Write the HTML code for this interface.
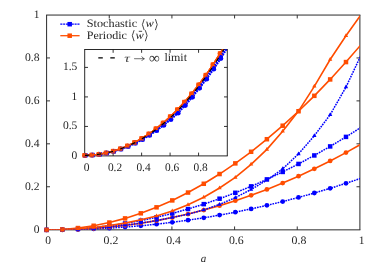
<!DOCTYPE html>
<html><head><meta charset="utf-8"><title>plot</title><style>html,body{margin:0;padding:0;background:#fff}body{width:382px;height:268px;overflow:hidden;font-family:"Liberation Serif",serif}</style></head><body>
<svg width="382" height="268" viewBox="0 0 382 268" style="display:block">
<rect width="382" height="268" fill="#fff"/>
<defs><filter id="tf" x="0" y="0" width="382" height="268" filterUnits="userSpaceOnUse"><feGaussianBlur stdDeviation="0.25"/></filter><clipPath id="cm"><rect x="46.6" y="15.05" width="313.29999999999995" height="214.79999999999998"/></clipPath>
<clipPath id="ci"><rect x="81.7" y="49.5" width="145.60000000000002" height="109.4"/></clipPath></defs>
<path d="M109.26 229.85 v-3.4 M109.26 15.05 v3.4 M46.6 186.76 h3.4 M359.9 186.76 h-3.4 M171.92 229.85 v-3.4 M171.92 15.05 v3.4 M46.6 143.82 h3.4 M359.9 143.82 h-3.4 M234.58 229.85 v-3.4 M234.58 15.05 v3.4 M46.6 100.88 h3.4 M359.9 100.88 h-3.4 M297.24 229.85 v-3.4 M297.24 15.05 v3.4 M46.6 57.94 h3.4 M359.9 57.94 h-3.4" fill="none" stroke="#111" stroke-width="0.85"/>
<path d="M46.6 15.05 V229.85 M46.1 229.85 H360.4 M359.9 229.85 V15.05 M360.4 15.05 H46.1" fill="none" stroke="#2a2a2a" stroke-width="1"/>
<polyline clip-path="url(#cm)" points="46.60,229.90 62.28,229.80 77.97,229.49 93.66,228.93 109.37,228.13 125.08,227.08 140.81,225.76 156.54,224.18 172.28,222.33 188.03,220.20 203.78,217.80 219.55,215.12 235.33,212.15 251.11,208.90 266.90,205.37 282.70,201.54 298.51,197.43 314.33,193.02 330.16,188.32 345.99,183.32 361.84,178.02" fill="none" stroke="#0000ff" stroke-width="1.5" stroke-dasharray="1.7 0.95"/>
<circle cx="46.60" cy="229.90" r="2.40" fill="#0000ff"/>
<circle cx="62.28" cy="229.80" r="2.40" fill="#0000ff"/>
<circle cx="77.97" cy="229.49" r="2.40" fill="#0000ff"/>
<circle cx="93.66" cy="228.93" r="2.40" fill="#0000ff"/>
<circle cx="109.37" cy="228.13" r="2.40" fill="#0000ff"/>
<circle cx="125.08" cy="227.08" r="2.40" fill="#0000ff"/>
<circle cx="140.81" cy="225.76" r="2.40" fill="#0000ff"/>
<circle cx="156.54" cy="224.18" r="2.40" fill="#0000ff"/>
<circle cx="172.28" cy="222.33" r="2.40" fill="#0000ff"/>
<circle cx="188.03" cy="220.20" r="2.40" fill="#0000ff"/>
<circle cx="203.78" cy="217.80" r="2.40" fill="#0000ff"/>
<circle cx="219.55" cy="215.12" r="2.40" fill="#0000ff"/>
<circle cx="235.33" cy="212.15" r="2.40" fill="#0000ff"/>
<circle cx="251.11" cy="208.90" r="2.40" fill="#0000ff"/>
<circle cx="266.90" cy="205.37" r="2.40" fill="#0000ff"/>
<circle cx="282.70" cy="201.54" r="2.40" fill="#0000ff"/>
<circle cx="298.51" cy="197.43" r="2.40" fill="#0000ff"/>
<circle cx="314.33" cy="193.02" r="2.40" fill="#0000ff"/>
<circle cx="330.16" cy="188.32" r="2.40" fill="#0000ff"/>
<circle cx="345.99" cy="183.32" r="2.40" fill="#0000ff"/>
<polyline clip-path="url(#cm)" points="46.60,229.90 62.28,229.75 77.97,229.25 93.66,228.36 109.37,227.06 125.08,225.34 140.81,223.19 156.54,220.59 172.28,217.55 188.03,214.04 203.78,210.07 219.55,205.63 235.33,200.72 251.11,195.32 266.90,189.44 282.70,183.07 298.51,176.20 314.33,168.83 330.16,160.97 345.99,152.59 361.84,143.71" fill="none" stroke="#ff4d00" stroke-width="1.6"/>
<circle cx="46.60" cy="229.90" r="2.40" fill="#ff4d00"/>
<circle cx="62.28" cy="229.75" r="2.40" fill="#ff4d00"/>
<circle cx="77.97" cy="229.25" r="2.40" fill="#ff4d00"/>
<circle cx="93.66" cy="228.36" r="2.40" fill="#ff4d00"/>
<circle cx="109.37" cy="227.06" r="2.40" fill="#ff4d00"/>
<circle cx="125.08" cy="225.34" r="2.40" fill="#ff4d00"/>
<circle cx="140.81" cy="223.19" r="2.40" fill="#ff4d00"/>
<circle cx="156.54" cy="220.59" r="2.40" fill="#ff4d00"/>
<circle cx="172.28" cy="217.55" r="2.40" fill="#ff4d00"/>
<circle cx="188.03" cy="214.04" r="2.40" fill="#ff4d00"/>
<circle cx="203.78" cy="210.07" r="2.40" fill="#ff4d00"/>
<circle cx="219.55" cy="205.63" r="2.40" fill="#ff4d00"/>
<circle cx="235.33" cy="200.72" r="2.40" fill="#ff4d00"/>
<circle cx="251.11" cy="195.32" r="2.40" fill="#ff4d00"/>
<circle cx="266.90" cy="189.44" r="2.40" fill="#ff4d00"/>
<circle cx="282.70" cy="183.07" r="2.40" fill="#ff4d00"/>
<circle cx="298.51" cy="176.20" r="2.40" fill="#ff4d00"/>
<circle cx="314.33" cy="168.83" r="2.40" fill="#ff4d00"/>
<circle cx="330.16" cy="160.97" r="2.40" fill="#ff4d00"/>
<circle cx="345.99" cy="152.59" r="2.40" fill="#ff4d00"/>
<polyline clip-path="url(#cm)" points="46.60,229.90 62.28,229.64 77.97,228.87 93.66,227.58 109.37,225.78 125.08,223.46 140.81,220.62 156.54,217.28 172.28,213.41 188.03,209.03 203.78,204.14 219.55,198.72 235.33,192.80 251.11,186.36 266.90,179.40 282.70,171.93 298.51,163.94 314.33,155.44 330.16,146.42 345.99,136.89 361.84,126.84" fill="none" stroke="#0000ff" stroke-width="1.5" stroke-dasharray="1.7 0.95"/>
<rect x="44.35" y="227.65" width="4.50" height="4.50" fill="#0000ff"/>
<rect x="60.03" y="227.39" width="4.50" height="4.50" fill="#0000ff"/>
<rect x="75.72" y="226.62" width="4.50" height="4.50" fill="#0000ff"/>
<rect x="91.41" y="225.33" width="4.50" height="4.50" fill="#0000ff"/>
<rect x="107.12" y="223.53" width="4.50" height="4.50" fill="#0000ff"/>
<rect x="122.83" y="221.21" width="4.50" height="4.50" fill="#0000ff"/>
<rect x="138.56" y="218.37" width="4.50" height="4.50" fill="#0000ff"/>
<rect x="154.29" y="215.03" width="4.50" height="4.50" fill="#0000ff"/>
<rect x="170.03" y="211.16" width="4.50" height="4.50" fill="#0000ff"/>
<rect x="185.78" y="206.78" width="4.50" height="4.50" fill="#0000ff"/>
<rect x="201.53" y="201.89" width="4.50" height="4.50" fill="#0000ff"/>
<rect x="217.30" y="196.47" width="4.50" height="4.50" fill="#0000ff"/>
<rect x="233.08" y="190.55" width="4.50" height="4.50" fill="#0000ff"/>
<rect x="248.86" y="184.11" width="4.50" height="4.50" fill="#0000ff"/>
<rect x="264.65" y="177.15" width="4.50" height="4.50" fill="#0000ff"/>
<rect x="280.45" y="169.68" width="4.50" height="4.50" fill="#0000ff"/>
<rect x="296.26" y="161.69" width="4.50" height="4.50" fill="#0000ff"/>
<rect x="312.08" y="153.19" width="4.50" height="4.50" fill="#0000ff"/>
<rect x="327.91" y="144.17" width="4.50" height="4.50" fill="#0000ff"/>
<rect x="343.74" y="134.64" width="4.50" height="4.50" fill="#0000ff"/>
<polyline clip-path="url(#cm)" points="46.60,229.90 62.28,229.44 77.97,228.06 93.66,225.76 109.37,222.54 125.08,218.39 140.81,213.32 156.54,207.33 172.28,200.41 188.03,192.55 203.78,183.77 219.55,174.04 235.33,163.38 251.11,151.77 266.90,139.22 282.70,125.71 298.51,111.25 314.33,95.82 330.16,79.43 345.99,62.07 361.84,43.72" fill="none" stroke="#ff4d00" stroke-width="1.6"/>
<rect x="44.35" y="227.65" width="4.50" height="4.50" fill="#ff4d00"/>
<rect x="60.03" y="227.19" width="4.50" height="4.50" fill="#ff4d00"/>
<rect x="75.72" y="225.81" width="4.50" height="4.50" fill="#ff4d00"/>
<rect x="91.41" y="223.51" width="4.50" height="4.50" fill="#ff4d00"/>
<rect x="107.12" y="220.29" width="4.50" height="4.50" fill="#ff4d00"/>
<rect x="122.83" y="216.14" width="4.50" height="4.50" fill="#ff4d00"/>
<rect x="138.56" y="211.07" width="4.50" height="4.50" fill="#ff4d00"/>
<rect x="154.29" y="205.08" width="4.50" height="4.50" fill="#ff4d00"/>
<rect x="170.03" y="198.16" width="4.50" height="4.50" fill="#ff4d00"/>
<rect x="185.78" y="190.30" width="4.50" height="4.50" fill="#ff4d00"/>
<rect x="201.53" y="181.52" width="4.50" height="4.50" fill="#ff4d00"/>
<rect x="217.30" y="171.79" width="4.50" height="4.50" fill="#ff4d00"/>
<rect x="233.08" y="161.13" width="4.50" height="4.50" fill="#ff4d00"/>
<rect x="248.86" y="149.52" width="4.50" height="4.50" fill="#ff4d00"/>
<rect x="264.65" y="136.97" width="4.50" height="4.50" fill="#ff4d00"/>
<rect x="280.45" y="123.46" width="4.50" height="4.50" fill="#ff4d00"/>
<rect x="296.26" y="109.00" width="4.50" height="4.50" fill="#ff4d00"/>
<rect x="312.08" y="93.57" width="4.50" height="4.50" fill="#ff4d00"/>
<rect x="327.91" y="77.18" width="4.50" height="4.50" fill="#ff4d00"/>
<rect x="343.74" y="59.82" width="4.50" height="4.50" fill="#ff4d00"/>
<polyline clip-path="url(#cm)" points="46.60,229.90 62.28,229.71 77.97,229.15 93.66,228.22 109.37,226.91 125.08,225.22 140.81,223.11 156.54,220.59 172.28,217.50 188.03,214.21 203.78,209.91 219.55,204.39 235.33,197.67 251.11,189.50 266.90,180.11 282.70,168.87 298.51,153.89 314.33,135.77 330.16,114.71 345.99,87.10 361.84,53.47" fill="none" stroke="#0000ff" stroke-width="1.5" stroke-dasharray="1.7 0.95"/>
<path d="M46.60 227.40 L48.77 231.15 L44.44 231.15Z" fill="#0000ff"/>
<path d="M62.28 227.21 L64.44 230.96 L60.11 230.96Z" fill="#0000ff"/>
<path d="M77.97 226.65 L80.13 230.40 L75.80 230.40Z" fill="#0000ff"/>
<path d="M93.66 225.72 L95.83 229.47 L91.50 229.47Z" fill="#0000ff"/>
<path d="M109.37 224.41 L111.53 228.16 L107.20 228.16Z" fill="#0000ff"/>
<path d="M125.08 222.72 L127.25 226.47 L122.92 226.47Z" fill="#0000ff"/>
<path d="M140.81 220.61 L142.97 224.36 L138.64 224.36Z" fill="#0000ff"/>
<path d="M156.54 218.09 L158.70 221.84 L154.37 221.84Z" fill="#0000ff"/>
<path d="M172.28 215.00 L174.44 218.75 L170.11 218.75Z" fill="#0000ff"/>
<path d="M188.03 211.71 L190.19 215.46 L185.86 215.46Z" fill="#0000ff"/>
<path d="M203.78 207.41 L205.95 211.16 L201.62 211.16Z" fill="#0000ff"/>
<path d="M219.55 201.89 L221.72 205.64 L217.39 205.64Z" fill="#0000ff"/>
<path d="M235.33 195.17 L237.49 198.92 L233.16 198.92Z" fill="#0000ff"/>
<path d="M251.11 187.00 L253.27 190.75 L248.94 190.75Z" fill="#0000ff"/>
<path d="M266.90 177.61 L269.07 181.36 L264.74 181.36Z" fill="#0000ff"/>
<path d="M282.70 166.37 L284.87 170.12 L280.54 170.12Z" fill="#0000ff"/>
<path d="M298.51 151.39 L300.68 155.14 L296.35 155.14Z" fill="#0000ff"/>
<path d="M314.33 133.27 L316.49 137.02 L312.16 137.02Z" fill="#0000ff"/>
<path d="M330.16 112.21 L332.32 115.96 L327.99 115.96Z" fill="#0000ff"/>
<path d="M345.99 84.60 L348.16 88.35 L343.83 88.35Z" fill="#0000ff"/>
<polyline clip-path="url(#cm)" points="46.60,229.90 62.28,229.63 77.97,228.82 93.66,227.46 109.37,225.56 125.08,223.12 140.81,219.80 156.54,215.93 172.28,210.99 188.03,204.76 203.78,197.24 219.55,187.99 235.33,177.46 251.11,164.36 266.90,149.40 282.70,131.26 298.51,111.06 314.33,86.35 330.16,59.48 345.99,35.69 361.84,13.50" fill="none" stroke="#ff4d00" stroke-width="1.6"/>
<path d="M46.60 227.40 L48.77 231.15 L44.44 231.15Z" fill="#ff4d00"/>
<path d="M62.28 227.13 L64.44 230.88 L60.11 230.88Z" fill="#ff4d00"/>
<path d="M77.97 226.32 L80.13 230.07 L75.80 230.07Z" fill="#ff4d00"/>
<path d="M93.66 224.96 L95.83 228.71 L91.50 228.71Z" fill="#ff4d00"/>
<path d="M109.37 223.06 L111.53 226.81 L107.20 226.81Z" fill="#ff4d00"/>
<path d="M125.08 220.62 L127.25 224.37 L122.92 224.37Z" fill="#ff4d00"/>
<path d="M140.81 217.30 L142.97 221.05 L138.64 221.05Z" fill="#ff4d00"/>
<path d="M156.54 213.43 L158.70 217.18 L154.37 217.18Z" fill="#ff4d00"/>
<path d="M172.28 208.49 L174.44 212.24 L170.11 212.24Z" fill="#ff4d00"/>
<path d="M188.03 202.26 L190.19 206.01 L185.86 206.01Z" fill="#ff4d00"/>
<path d="M203.78 194.74 L205.95 198.49 L201.62 198.49Z" fill="#ff4d00"/>
<path d="M219.55 185.49 L221.72 189.24 L217.39 189.24Z" fill="#ff4d00"/>
<path d="M235.33 174.96 L237.49 178.71 L233.16 178.71Z" fill="#ff4d00"/>
<path d="M251.11 161.86 L253.27 165.61 L248.94 165.61Z" fill="#ff4d00"/>
<path d="M266.90 146.90 L269.07 150.65 L264.74 150.65Z" fill="#ff4d00"/>
<path d="M282.70 128.76 L284.87 132.51 L280.54 132.51Z" fill="#ff4d00"/>
<path d="M298.51 108.56 L300.68 112.31 L296.35 112.31Z" fill="#ff4d00"/>
<path d="M314.33 83.85 L316.49 87.60 L312.16 87.60Z" fill="#ff4d00"/>
<path d="M330.16 56.98 L332.32 60.73 L327.99 60.73Z" fill="#ff4d00"/>
<path d="M345.99 33.19 L348.16 36.94 L343.83 36.94Z" fill="#ff4d00"/>
<rect x="84.7" y="49.5" width="142.60000000000002" height="106.4" fill="#fff"/>
<path d="M113.13 155.9 v-3.3 M113.13 49.5 v3.3 M141.61 155.9 v-3.3 M141.61 49.5 v3.3 M170.09 155.9 v-3.3 M170.09 49.5 v3.3 M198.57 155.9 v-3.3 M198.57 49.5 v3.3 M84.7 126.43 h3.3 M227.3 126.43 h-3.3 M84.7 96.92 h3.3 M227.3 96.92 h-3.3 M84.7 67.40 h3.3 M227.3 67.40 h-3.3" fill="none" stroke="#111" stroke-width="0.85"/>
<path d="M84.7 49.5 V155.9 M84.25 155.9 H227.75 M227.3 155.9 V49.5 M227.75 49.5 H84.25" fill="none" stroke="#111" stroke-width="0.9"/>
<polyline clip-path="url(#ci)" points="85.40,155.30 87.24,155.28 89.07,155.23 90.91,155.15 92.74,155.03 94.58,154.88 96.42,154.70 98.25,154.48 100.09,154.23 101.92,153.95 103.76,153.64 105.60,153.29 107.43,152.91 109.27,152.50 111.10,152.06 112.94,151.59 114.78,151.08 116.61,150.54 118.45,149.97 120.28,149.36 122.12,148.72 123.96,148.06 125.79,147.35 127.63,146.62 129.46,145.85 131.30,145.05 133.14,144.22 134.97,143.35 136.81,142.45 138.64,141.52 140.48,140.56 142.32,139.56 144.15,138.53 145.99,137.46 147.82,136.36 149.66,135.23 151.50,134.06 153.33,132.86 155.17,131.62 157.00,130.35 158.84,129.04 160.67,127.70 162.51,126.32 164.35,124.91 166.18,123.47 168.02,121.98 169.85,120.46 171.69,118.90 173.53,117.31 175.36,115.68 177.20,114.01 179.03,112.22 180.87,110.30 182.71,108.33 184.54,106.33 186.38,104.27 188.21,102.18 190.05,100.04 191.89,97.85 193.72,95.62 195.56,93.34 197.39,91.01 199.23,88.64 201.07,86.34 202.90,84.00 204.74,81.62 206.57,79.18 208.41,76.70 210.25,74.17 212.08,71.59 213.92,68.96 215.75,66.28 217.59,63.55 219.43,60.76 221.26,57.93 223.10,55.04 224.93,52.10 226.77,49.10 228.61,46.05 230.44,42.95 232.28,39.79" fill="none" stroke="#0000ff" stroke-width="1.6" stroke-dasharray="1.7 0.95"/>
<circle cx="85.40" cy="155.30" r="2.40" fill="#0000ff"/>
<circle cx="92.53" cy="155.05" r="2.40" fill="#0000ff"/>
<circle cx="99.66" cy="154.29" r="2.40" fill="#0000ff"/>
<circle cx="106.79" cy="153.05" r="2.40" fill="#0000ff"/>
<circle cx="113.92" cy="151.32" r="2.40" fill="#0000ff"/>
<circle cx="121.05" cy="149.10" r="2.40" fill="#0000ff"/>
<circle cx="128.18" cy="146.39" r="2.40" fill="#0000ff"/>
<circle cx="135.31" cy="143.19" r="2.40" fill="#0000ff"/>
<circle cx="142.44" cy="139.49" r="2.40" fill="#0000ff"/>
<circle cx="149.57" cy="135.28" r="2.40" fill="#0000ff"/>
<circle cx="156.70" cy="130.56" r="2.40" fill="#0000ff"/>
<circle cx="163.83" cy="125.31" r="2.40" fill="#0000ff"/>
<circle cx="170.96" cy="119.53" r="2.40" fill="#0000ff"/>
<circle cx="178.09" cy="113.19" r="2.40" fill="#0000ff"/>
<circle cx="185.22" cy="105.57" r="2.40" fill="#0000ff"/>
<circle cx="192.35" cy="97.29" r="2.40" fill="#0000ff"/>
<circle cx="199.48" cy="88.32" r="2.40" fill="#0000ff"/>
<circle cx="206.61" cy="79.14" r="2.40" fill="#0000ff"/>
<circle cx="213.74" cy="69.22" r="2.40" fill="#0000ff"/>
<circle cx="220.87" cy="58.54" r="2.40" fill="#0000ff"/>
<polyline clip-path="url(#ci)" points="84.60,155.30 86.44,155.28 88.27,155.23 90.11,155.15 91.94,155.02 93.78,154.87 95.62,154.68 97.45,154.46 99.29,154.20 101.12,153.91 102.96,153.58 104.80,153.22 106.63,152.82 108.47,152.39 110.30,151.92 112.14,151.42 113.98,150.88 115.81,150.31 117.65,149.70 119.48,149.06 121.32,148.38 123.16,147.66 124.99,146.91 126.83,146.13 128.66,145.31 130.50,144.45 132.34,143.55 134.17,142.62 136.01,141.65 137.84,140.65 139.68,139.60 141.52,138.52 143.35,137.41 145.19,136.25 147.02,135.06 148.86,133.83 150.70,132.56 152.53,131.25 154.37,129.90 156.20,128.51 158.04,127.09 159.87,125.62 161.71,124.12 163.55,122.57 165.38,120.98 167.22,119.36 169.05,117.69 170.89,115.98 172.73,114.23 174.56,112.43 176.40,110.60 178.23,108.72 180.07,106.80 181.91,104.83 183.74,102.83 185.58,100.77 187.41,98.68 189.25,96.54 191.09,94.35 192.92,92.12 194.76,89.84 196.59,87.51 198.43,85.14 200.27,82.73 202.10,80.26 203.94,77.75 205.77,75.19 207.61,72.57 209.45,69.92 211.28,67.21 213.12,64.45 214.95,61.64 216.79,58.78 218.63,55.86 220.46,52.90 222.30,49.88 224.13,46.81 225.97,43.69 227.81,40.51 229.64,37.28 231.48,33.99" fill="none" stroke="#ff4d00" stroke-width="1.5"/>
<circle cx="84.60" cy="155.30" r="2.40" fill="#ff4d00"/>
<circle cx="91.73" cy="155.04" r="2.40" fill="#ff4d00"/>
<circle cx="98.86" cy="154.26" r="2.40" fill="#ff4d00"/>
<circle cx="105.99" cy="152.96" r="2.40" fill="#ff4d00"/>
<circle cx="113.12" cy="151.14" r="2.40" fill="#ff4d00"/>
<circle cx="120.25" cy="148.78" r="2.40" fill="#ff4d00"/>
<circle cx="127.38" cy="145.88" r="2.40" fill="#ff4d00"/>
<circle cx="134.51" cy="142.44" r="2.40" fill="#ff4d00"/>
<circle cx="141.64" cy="138.45" r="2.40" fill="#ff4d00"/>
<circle cx="148.77" cy="133.89" r="2.40" fill="#ff4d00"/>
<circle cx="155.90" cy="128.74" r="2.40" fill="#ff4d00"/>
<circle cx="163.03" cy="123.01" r="2.40" fill="#ff4d00"/>
<circle cx="170.16" cy="116.66" r="2.40" fill="#ff4d00"/>
<circle cx="177.29" cy="109.69" r="2.40" fill="#ff4d00"/>
<circle cx="184.42" cy="102.07" r="2.40" fill="#ff4d00"/>
<circle cx="191.55" cy="93.79" r="2.40" fill="#ff4d00"/>
<circle cx="198.68" cy="84.82" r="2.40" fill="#ff4d00"/>
<circle cx="205.81" cy="75.14" r="2.40" fill="#ff4d00"/>
<circle cx="212.94" cy="64.72" r="2.40" fill="#ff4d00"/>
<circle cx="220.07" cy="53.54" r="2.40" fill="#ff4d00"/>
<polyline clip-path="url(#ci)" points="85.24,155.30 87.08,155.28 88.91,155.23 90.75,155.15 92.58,155.03 94.42,154.88 96.26,154.69 98.09,154.48 99.93,154.23 101.76,153.94 103.60,153.63 105.44,153.28 107.27,152.90 109.11,152.48 110.94,152.03 112.78,151.55 114.62,151.04 116.45,150.49 118.29,149.91 120.12,149.30 121.96,148.66 123.80,147.98 125.63,147.27 127.47,146.52 129.30,145.74 131.14,144.93 132.98,144.08 134.81,143.21 136.65,142.29 138.48,141.35 140.32,140.37 142.16,139.35 143.99,138.30 145.83,137.22 147.66,136.10 149.50,134.95 151.34,133.76 153.17,132.53 155.01,131.28 156.84,129.98 158.68,128.65 160.51,127.29 162.35,125.88 164.19,124.44 166.02,122.97 167.86,121.46 169.69,119.91 171.53,118.32 173.37,116.69 175.20,115.03 177.04,113.33 178.87,111.52 180.71,109.60 182.55,107.63 184.38,105.63 186.22,103.57 188.05,101.48 189.89,99.34 191.73,97.15 193.56,94.92 195.40,92.64 197.23,90.31 199.07,87.94 200.91,85.61 202.74,83.25 204.58,80.84 206.41,78.38 208.25,75.88 210.09,73.32 211.92,70.71 213.76,68.06 215.59,65.35 217.43,62.59 219.27,59.78 221.10,56.92 222.94,54.01 224.77,51.04 226.61,48.02 228.45,44.94 230.28,41.82 232.12,38.63" fill="none" stroke="#0000ff" stroke-width="1.6" stroke-dasharray="1.7 0.95"/>
<rect x="82.99" y="153.05" width="4.50" height="4.50" fill="#0000ff"/>
<rect x="90.12" y="152.80" width="4.50" height="4.50" fill="#0000ff"/>
<rect x="97.25" y="152.04" width="4.50" height="4.50" fill="#0000ff"/>
<rect x="104.38" y="150.78" width="4.50" height="4.50" fill="#0000ff"/>
<rect x="111.51" y="149.03" width="4.50" height="4.50" fill="#0000ff"/>
<rect x="118.64" y="146.79" width="4.50" height="4.50" fill="#0000ff"/>
<rect x="125.77" y="144.04" width="4.50" height="4.50" fill="#0000ff"/>
<rect x="132.90" y="140.79" width="4.50" height="4.50" fill="#0000ff"/>
<rect x="140.03" y="137.03" width="4.50" height="4.50" fill="#0000ff"/>
<rect x="147.16" y="132.75" width="4.50" height="4.50" fill="#0000ff"/>
<rect x="154.29" y="127.95" width="4.50" height="4.50" fill="#0000ff"/>
<rect x="161.42" y="122.60" width="4.50" height="4.50" fill="#0000ff"/>
<rect x="168.55" y="116.71" width="4.50" height="4.50" fill="#0000ff"/>
<rect x="175.68" y="110.24" width="4.50" height="4.50" fill="#0000ff"/>
<rect x="182.81" y="102.62" width="4.50" height="4.50" fill="#0000ff"/>
<rect x="189.94" y="94.34" width="4.50" height="4.50" fill="#0000ff"/>
<rect x="197.07" y="85.37" width="4.50" height="4.50" fill="#0000ff"/>
<rect x="204.20" y="76.09" width="4.50" height="4.50" fill="#0000ff"/>
<rect x="211.33" y="66.07" width="4.50" height="4.50" fill="#0000ff"/>
<rect x="218.46" y="55.29" width="4.50" height="4.50" fill="#0000ff"/>
<polyline clip-path="url(#ci)" points="84.60,155.30 86.44,155.28 88.27,155.23 90.11,155.15 91.94,155.02 93.78,154.87 95.62,154.68 97.45,154.46 99.29,154.20 101.12,153.91 102.96,153.58 104.80,153.22 106.63,152.82 108.47,152.39 110.30,151.92 112.14,151.42 113.98,150.88 115.81,150.31 117.65,149.70 119.48,149.06 121.32,148.38 123.16,147.66 124.99,146.91 126.83,146.13 128.66,145.31 130.50,144.45 132.34,143.55 134.17,142.62 136.01,141.65 137.84,140.65 139.68,139.60 141.52,138.52 143.35,137.41 145.19,136.25 147.02,135.06 148.86,133.83 150.70,132.56 152.53,131.25 154.37,129.90 156.20,128.51 158.04,127.09 159.87,125.62 161.71,124.12 163.55,122.57 165.38,120.98 167.22,119.36 169.05,117.69 170.89,115.98 172.73,114.23 174.56,112.43 176.40,110.60 178.23,108.72 180.07,106.80 181.91,104.83 183.74,102.83 185.58,100.77 187.41,98.68 189.25,96.54 191.09,94.35 192.92,92.12 194.76,89.84 196.59,87.51 198.43,85.14 200.27,82.73 202.10,80.26 203.94,77.75 205.77,75.19 207.61,72.57 209.45,69.92 211.28,67.21 213.12,64.45 214.95,61.64 216.79,58.78 218.63,55.86 220.46,52.90 222.30,49.88 224.13,46.81 225.97,43.69 227.81,40.51 229.64,37.28 231.48,33.99" fill="none" stroke="#ff4d00" stroke-width="1.5"/>
<rect x="82.35" y="153.05" width="4.50" height="4.50" fill="#ff4d00"/>
<rect x="89.48" y="152.79" width="4.50" height="4.50" fill="#ff4d00"/>
<rect x="96.61" y="152.01" width="4.50" height="4.50" fill="#ff4d00"/>
<rect x="103.74" y="150.71" width="4.50" height="4.50" fill="#ff4d00"/>
<rect x="110.87" y="148.89" width="4.50" height="4.50" fill="#ff4d00"/>
<rect x="118.00" y="146.53" width="4.50" height="4.50" fill="#ff4d00"/>
<rect x="125.13" y="143.63" width="4.50" height="4.50" fill="#ff4d00"/>
<rect x="132.26" y="140.19" width="4.50" height="4.50" fill="#ff4d00"/>
<rect x="139.39" y="136.20" width="4.50" height="4.50" fill="#ff4d00"/>
<rect x="146.52" y="131.64" width="4.50" height="4.50" fill="#ff4d00"/>
<rect x="153.65" y="126.49" width="4.50" height="4.50" fill="#ff4d00"/>
<rect x="160.78" y="120.76" width="4.50" height="4.50" fill="#ff4d00"/>
<rect x="167.91" y="114.41" width="4.50" height="4.50" fill="#ff4d00"/>
<rect x="175.04" y="107.44" width="4.50" height="4.50" fill="#ff4d00"/>
<rect x="182.17" y="99.82" width="4.50" height="4.50" fill="#ff4d00"/>
<rect x="189.30" y="91.54" width="4.50" height="4.50" fill="#ff4d00"/>
<rect x="196.43" y="82.57" width="4.50" height="4.50" fill="#ff4d00"/>
<rect x="203.56" y="72.89" width="4.50" height="4.50" fill="#ff4d00"/>
<rect x="210.69" y="62.47" width="4.50" height="4.50" fill="#ff4d00"/>
<rect x="217.82" y="51.29" width="4.50" height="4.50" fill="#ff4d00"/>
<polyline clip-path="url(#ci)" points="85.00,155.30 86.84,155.28 88.67,155.23 90.51,155.15 92.34,155.03 94.18,154.88 96.02,154.69 97.85,154.47 99.69,154.22 101.52,153.93 103.36,153.61 105.20,153.25 107.03,152.87 108.87,152.45 110.70,151.99 112.54,151.50 114.38,150.98 116.21,150.42 118.05,149.83 119.88,149.21 121.72,148.55 123.56,147.86 125.39,147.13 127.23,146.37 129.06,145.58 130.90,144.75 132.74,143.89 134.57,142.99 136.41,142.05 138.24,141.08 140.08,140.08 141.92,139.04 143.75,137.97 145.59,136.86 147.42,135.71 149.26,134.53 151.10,133.31 152.93,132.05 154.77,130.76 156.60,129.43 158.44,128.06 160.27,126.66 162.11,125.22 163.95,123.74 165.78,122.22 167.62,120.67 169.45,119.07 171.29,117.44 173.13,115.77 174.96,114.06 176.80,112.31 178.63,110.47 180.47,108.55 182.31,106.58 184.14,104.58 185.98,102.52 187.81,100.43 189.65,98.29 191.49,96.10 193.32,93.87 195.16,91.59 196.99,89.26 198.83,86.89 200.67,84.53 202.50,82.13 204.34,79.68 206.17,77.18 208.01,74.64 209.85,72.04 211.68,69.40 213.52,66.70 215.35,63.96 217.19,61.16 219.03,58.31 220.86,55.41 222.70,52.46 224.53,49.45 226.37,46.39 228.21,43.28 230.04,40.11 231.88,36.89" fill="none" stroke="#0000ff" stroke-width="1.6" stroke-dasharray="1.7 0.95"/>
<path d="M85.00 152.80 L87.17 156.55 L82.83 156.55Z" fill="#0000ff"/>
<path d="M92.13 152.54 L94.30 156.29 L89.96 156.29Z" fill="#0000ff"/>
<path d="M99.26 151.78 L101.43 155.53 L97.09 155.53Z" fill="#0000ff"/>
<path d="M106.39 150.51 L108.56 154.26 L104.22 154.26Z" fill="#0000ff"/>
<path d="M113.52 148.73 L115.69 152.48 L111.35 152.48Z" fill="#0000ff"/>
<path d="M120.65 146.44 L122.82 150.19 L118.48 150.19Z" fill="#0000ff"/>
<path d="M127.78 143.64 L129.94 147.39 L125.61 147.39Z" fill="#0000ff"/>
<path d="M134.91 140.32 L137.07 144.07 L132.75 144.07Z" fill="#0000ff"/>
<path d="M142.04 136.47 L144.20 140.22 L139.88 140.22Z" fill="#0000ff"/>
<path d="M149.17 132.08 L151.33 135.83 L147.00 135.83Z" fill="#0000ff"/>
<path d="M156.30 127.15 L158.46 130.90 L154.13 130.90Z" fill="#0000ff"/>
<path d="M163.43 121.66 L165.59 125.41 L161.27 125.41Z" fill="#0000ff"/>
<path d="M170.56 115.60 L172.72 119.35 L168.40 119.35Z" fill="#0000ff"/>
<path d="M177.69 108.94 L179.85 112.69 L175.53 112.69Z" fill="#0000ff"/>
<path d="M184.82 101.32 L186.99 105.07 L182.66 105.07Z" fill="#0000ff"/>
<path d="M191.95 93.04 L194.11 96.79 L189.78 96.79Z" fill="#0000ff"/>
<path d="M199.08 84.07 L201.25 87.82 L196.92 87.82Z" fill="#0000ff"/>
<path d="M206.21 74.64 L208.38 78.39 L204.05 78.39Z" fill="#0000ff"/>
<path d="M213.34 64.47 L215.50 68.22 L211.18 68.22Z" fill="#0000ff"/>
<path d="M220.47 53.54 L222.63 57.29 L218.31 57.29Z" fill="#0000ff"/>
<polyline clip-path="url(#ci)" points="84.60,155.30 86.44,155.28 88.27,155.23 90.11,155.15 91.94,155.02 93.78,154.87 95.62,154.68 97.45,154.46 99.29,154.20 101.12,153.91 102.96,153.58 104.80,153.22 106.63,152.82 108.47,152.39 110.30,151.92 112.14,151.42 113.98,150.88 115.81,150.31 117.65,149.70 119.48,149.06 121.32,148.38 123.16,147.66 124.99,146.91 126.83,146.13 128.66,145.31 130.50,144.45 132.34,143.55 134.17,142.62 136.01,141.65 137.84,140.65 139.68,139.60 141.52,138.52 143.35,137.41 145.19,136.25 147.02,135.06 148.86,133.83 150.70,132.56 152.53,131.25 154.37,129.90 156.20,128.51 158.04,127.09 159.87,125.62 161.71,124.12 163.55,122.57 165.38,120.98 167.22,119.36 169.05,117.69 170.89,115.98 172.73,114.23 174.56,112.43 176.40,110.60 178.23,108.72 180.07,106.80 181.91,104.83 183.74,102.83 185.58,100.77 187.41,98.68 189.25,96.54 191.09,94.35 192.92,92.12 194.76,89.84 196.59,87.51 198.43,85.14 200.27,82.73 202.10,80.26 203.94,77.75 205.77,75.19 207.61,72.57 209.45,69.92 211.28,67.21 213.12,64.45 214.95,61.64 216.79,58.78 218.63,55.86 220.46,52.90 222.30,49.88 224.13,46.81 225.97,43.69 227.81,40.51 229.64,37.28 231.48,33.99" fill="none" stroke="#ff4d00" stroke-width="1.5"/>
<path d="M84.60 152.80 L86.77 156.55 L82.43 156.55Z" fill="#ff4d00"/>
<path d="M91.73 152.54 L93.89 156.29 L89.56 156.29Z" fill="#ff4d00"/>
<path d="M98.86 151.76 L101.03 155.51 L96.69 155.51Z" fill="#ff4d00"/>
<path d="M105.99 150.46 L108.16 154.21 L103.82 154.21Z" fill="#ff4d00"/>
<path d="M113.12 148.64 L115.28 152.39 L110.95 152.39Z" fill="#ff4d00"/>
<path d="M120.25 146.28 L122.42 150.03 L118.08 150.03Z" fill="#ff4d00"/>
<path d="M127.38 143.38 L129.54 147.13 L125.21 147.13Z" fill="#ff4d00"/>
<path d="M134.51 139.94 L136.67 143.69 L132.34 143.69Z" fill="#ff4d00"/>
<path d="M141.64 135.95 L143.80 139.70 L139.47 139.70Z" fill="#ff4d00"/>
<path d="M148.77 131.39 L150.93 135.14 L146.60 135.14Z" fill="#ff4d00"/>
<path d="M155.90 126.24 L158.06 129.99 L153.73 129.99Z" fill="#ff4d00"/>
<path d="M163.03 120.51 L165.19 124.26 L160.87 124.26Z" fill="#ff4d00"/>
<path d="M170.16 114.16 L172.32 117.91 L168.00 117.91Z" fill="#ff4d00"/>
<path d="M177.29 107.19 L179.45 110.94 L175.12 110.94Z" fill="#ff4d00"/>
<path d="M184.42 99.57 L186.59 103.32 L182.26 103.32Z" fill="#ff4d00"/>
<path d="M191.55 91.29 L193.71 95.04 L189.38 95.04Z" fill="#ff4d00"/>
<path d="M198.68 82.32 L200.84 86.07 L196.52 86.07Z" fill="#ff4d00"/>
<path d="M205.81 72.64 L207.97 76.39 L203.65 76.39Z" fill="#ff4d00"/>
<path d="M212.94 62.22 L215.10 65.97 L210.78 65.97Z" fill="#ff4d00"/>
<path d="M220.07 51.04 L222.23 54.79 L217.91 54.79Z" fill="#ff4d00"/>
<polyline clip-path="url(#ci)" points="84.90,155.30 86.74,155.28 88.57,155.23 90.41,155.15 92.24,155.03 94.08,154.87 95.92,154.69 97.75,154.46 99.59,154.21 101.42,153.92 103.26,153.60 105.10,153.24 106.93,152.85 108.77,152.42 110.60,151.96 112.44,151.47 114.28,150.94 116.11,150.38 117.95,149.78 119.78,149.15 121.62,148.48 123.46,147.78 125.29,147.05 127.13,146.28 128.96,145.47 130.80,144.63 132.64,143.75 134.47,142.84 136.31,141.89 138.14,140.91 139.98,139.89 141.82,138.83 143.65,137.74 145.49,136.61 147.32,135.45 149.16,134.25 151.00,133.01 152.83,131.73 154.67,130.42 156.50,129.06 158.34,127.67 160.17,126.25 162.01,124.78 163.85,123.27 165.68,121.73 167.52,120.14 169.35,118.52 171.19,116.86 173.03,115.15 174.86,113.41 176.70,111.62 178.53,109.77 180.37,107.85 182.21,105.88 184.04,103.88 185.88,101.82 187.71,99.73 189.55,97.59 191.39,95.40 193.22,93.17 195.06,90.89 196.89,88.56 198.73,86.19 200.57,83.81 202.40,81.38 204.24,78.91 206.07,76.38 207.91,73.81 209.75,71.19 211.58,68.52 213.42,65.80 215.25,63.03 217.09,60.21 218.93,57.33 220.76,54.41 222.60,51.43 224.43,48.40 226.27,45.31 228.11,42.17 229.94,38.98 231.78,35.73" fill="none" stroke="#000" stroke-width="1.2" stroke-dasharray="4.5 7.5"/>
<g font-family="'Liberation Serif', serif" fill="#262626" filter="url(#tf)" style="text-rendering:geometricPrecision">
<text x="39.6" y="233.0" text-anchor="end" font-size="11.5" >0</text>
<text x="48.2" y="244.2" text-anchor="middle" font-size="11.5" >0</text>
<text x="39.6" y="190.02" text-anchor="end" font-size="11.5" textLength="14.6" lengthAdjust="spacingAndGlyphs" >0.2</text>
<text x="110.9" y="244.2" text-anchor="middle" font-size="11.5" textLength="14.8" lengthAdjust="spacingAndGlyphs" >0.2</text>
<text x="39.6" y="147.04" text-anchor="end" font-size="11.5" textLength="14.6" lengthAdjust="spacingAndGlyphs" >0.4</text>
<text x="173.6" y="244.2" text-anchor="middle" font-size="11.5" textLength="14.8" lengthAdjust="spacingAndGlyphs" >0.4</text>
<text x="39.6" y="104.06" text-anchor="end" font-size="11.5" textLength="14.6" lengthAdjust="spacingAndGlyphs" >0.6</text>
<text x="236.3" y="244.2" text-anchor="middle" font-size="11.5" textLength="14.8" lengthAdjust="spacingAndGlyphs" >0.6</text>
<text x="39.6" y="61.08" text-anchor="end" font-size="11.5" textLength="14.6" lengthAdjust="spacingAndGlyphs" >0.8</text>
<text x="299.0" y="244.2" text-anchor="middle" font-size="11.5" textLength="14.8" lengthAdjust="spacingAndGlyphs" >0.8</text>
<text x="39.6" y="18.1" text-anchor="end" font-size="11.5" >1</text>
<text x="361.7" y="244.2" text-anchor="middle" font-size="11.5" >1</text>
<text x="77.3" y="158.6" text-anchor="end" font-size="11.5" >0</text>
<text x="77.3" y="129.14" text-anchor="end" font-size="11.5" textLength="14.4" lengthAdjust="spacingAndGlyphs" >0.5</text>
<text x="77.3" y="99.67" text-anchor="end" font-size="11.5" >1</text>
<text x="77.3" y="70.21" text-anchor="end" font-size="11.5" textLength="14.4" lengthAdjust="spacingAndGlyphs" >1.5</text>
<text x="86.5" y="171.3" text-anchor="middle" font-size="11.5" >0</text>
<text x="115.02" y="171.3" text-anchor="middle" font-size="11.5" textLength="14.2" lengthAdjust="spacingAndGlyphs" >0.2</text>
<text x="143.54" y="171.3" text-anchor="middle" font-size="11.5" textLength="14.2" lengthAdjust="spacingAndGlyphs" >0.4</text>
<text x="172.06" y="171.3" text-anchor="middle" font-size="11.5" textLength="14.2" lengthAdjust="spacingAndGlyphs" >0.6</text>
<text x="200.58" y="171.3" text-anchor="middle" font-size="11.5" textLength="14.2" lengthAdjust="spacingAndGlyphs" >0.8</text>
<text x="203.5" y="262.1" text-anchor="middle" font-size="11" font-style="italic">a</text>
<text x="86.8" y="27.1" text-anchor="start" font-size="11.4" textLength="50.3" lengthAdjust="spacingAndGlyphs" >Stochastic</text>
<text x="145.6" y="27.1" text-anchor="start" font-size="11.5" textLength="8.3" lengthAdjust="spacingAndGlyphs" font-style="italic">w</text>
<text x="86.8" y="38.6" text-anchor="start" font-size="11.4" textLength="40.0" lengthAdjust="spacingAndGlyphs" >Periodic</text>
<text x="135.5" y="38.6" text-anchor="start" font-size="11.5" textLength="8.3" lengthAdjust="spacingAndGlyphs" font-style="italic">w</text>
<path d="M144.20 19.10 L142.40 24.60 L144.20 30.10 M155.40 19.10 L157.20 24.60 L155.40 30.10 M134.10 30.20 L132.30 35.70 L134.10 41.20 M145.30 30.20 L147.10 35.70 L145.30 41.20 M138.8 31.3 h3.3" stroke="#262626" stroke-width="0.85" fill="none"/>
<text x="124.3" y="61.5" text-anchor="start" font-size="11.5" textLength="5.6" lengthAdjust="spacingAndGlyphs" font-style="italic" fill="#444">τ</text>
<path d="M134.1 58.7 H144.2 M141.7 56.4 Q142.5 58.2 144.4 58.7 Q142.5 59.2 141.7 61" stroke="#262626" stroke-width="0.65" fill="none"/>
<text x="149.0" y="63.2" text-anchor="start" font-size="15" textLength="10.8" lengthAdjust="spacingAndGlyphs" >∞</text>
<text x="164.4" y="61.4" text-anchor="start" font-size="11.4" textLength="22.6" lengthAdjust="spacingAndGlyphs" >limit</text>
</g>
<path d="M60.3 24.1 H79.6" stroke="#0000ff" stroke-width="1.35" stroke-dasharray="2.1 0.75" fill="none"/>
<rect x="67.45" y="21.95" width="4.50" height="4.50" fill="#0000ff"/>
<path d="M60.3 35.7 H79.6" stroke="#ff4d00" stroke-width="1.3" fill="none"/>
<rect x="67.45" y="33.45" width="4.50" height="4.50" fill="#ff4d00"/>
<path d="M98.3 57.8 h4.5 M110.3 57.8 h4.5" stroke="#000" stroke-width="1.2" fill="none"/>
</svg>
</body></html>
